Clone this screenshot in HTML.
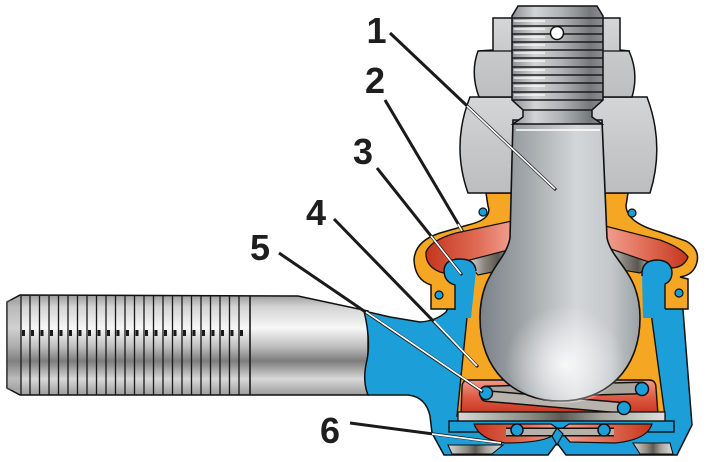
<!DOCTYPE html>
<html><head><meta charset="utf-8">
<style>
html,body{margin:0;padding:0;background:#fff;}
svg{display:block;}
text{font-family:"Liberation Sans",Arial,sans-serif;font-weight:bold;font-size:36px;fill:#1e1e1e;}
</style></head><body>
<svg width="709" height="462" viewBox="0 0 709 462" xmlns="http://www.w3.org/2000/svg">
<defs>
 <linearGradient id="rod" x1="0" y1="0" x2="0" y2="1">
  <stop offset="0" stop-color="#9a9a9a"/>
  <stop offset="0.12" stop-color="#d4d4d4"/>
  <stop offset="0.33" stop-color="#f7f7f7"/>
  <stop offset="0.52" stop-color="#bdbdbd"/>
  <stop offset="0.66" stop-color="#7c7c7c"/>
  <stop offset="0.84" stop-color="#d8d8d8"/>
  <stop offset="1" stop-color="#9c9c9c"/>
 </linearGradient>
 <linearGradient id="pin" x1="480" y1="0" x2="640" y2="0" gradientUnits="userSpaceOnUse">
  <stop offset="0" stop-color="#7b8287"/>
  <stop offset="0.3" stop-color="#a4a9ad"/>
  <stop offset="0.6" stop-color="#d3d6d8"/>
  <stop offset="0.82" stop-color="#c4c8cb"/>
  <stop offset="1" stop-color="#9aa0a4"/>
 </linearGradient>
 <radialGradient id="ballhl" cx="565" cy="365" r="60" gradientUnits="userSpaceOnUse">
  <stop offset="0" stop-color="#ffffff" stop-opacity="0.85"/>
  <stop offset="0.6" stop-color="#ffffff" stop-opacity="0.35"/>
  <stop offset="1" stop-color="#ffffff" stop-opacity="0"/>
 </radialGradient>
 <linearGradient id="thr" x1="512" y1="0" x2="604" y2="0" gradientUnits="userSpaceOnUse">
  <stop offset="0" stop-color="#8c8f92"/>
  <stop offset="0.25" stop-color="#d2d4d5"/>
  <stop offset="0.55" stop-color="#aeb1b3"/>
  <stop offset="0.85" stop-color="#75797c"/>
  <stop offset="1" stop-color="#8e9194"/>
 </linearGradient>
 <linearGradient id="nut" x1="0" y1="0" x2="0" y2="1">
  <stop offset="0" stop-color="#d4d6d7"/>
  <stop offset="0.5" stop-color="#c6c8ca"/>
  <stop offset="1" stop-color="#bcbec0"/>
 </linearGradient>
 <linearGradient id="red" x1="0" y1="0" x2="0" y2="1">
  <stop offset="0" stop-color="#f19a8c"/>
  <stop offset="0.5" stop-color="#df5b43"/>
  <stop offset="1" stop-color="#c4361d"/>
 </linearGradient>
 <linearGradient id="redL" x1="0" y1="0" x2="1" y2="0">
  <stop offset="0" stop-color="#c4361d"/>
  <stop offset="0.6" stop-color="#e06b55"/>
  <stop offset="1" stop-color="#f0a090"/>
 </linearGradient>
 <linearGradient id="redR" x1="0" y1="0" x2="1" y2="0">
  <stop offset="0" stop-color="#f0a090"/>
  <stop offset="0.5" stop-color="#e06b55"/>
  <stop offset="1" stop-color="#c4361d"/>
 </linearGradient>
 <linearGradient id="metal" x1="0" y1="0" x2="1" y2="0">
  <stop offset="0" stop-color="#e8e8e8"/>
  <stop offset="0.4" stop-color="#8a857c"/>
  <stop offset="0.7" stop-color="#5a5650"/>
  <stop offset="1" stop-color="#c8c8c8"/>
 </linearGradient>
 <linearGradient id="plate" x1="0" y1="0" x2="1" y2="0">
  <stop offset="0" stop-color="#d8d8d8"/>
  <stop offset="0.35" stop-color="#8d8980"/>
  <stop offset="0.5" stop-color="#5d5a54"/>
  <stop offset="0.7" stop-color="#a9a59c"/>
  <stop offset="1" stop-color="#e0e0e0"/>
 </linearGradient>
</defs>

<!-- threaded rod -->
<path d="M7,302 L20,295 L298,296 L368,311 L368,395 L20,395 L7,388 Z" fill="url(#rod)" stroke="#111" stroke-width="1.5"/>
<rect x="7" y="300" width="14" height="90" fill="#8a8a8a" opacity="0.35"/>
<g stroke="#1a1a1a" stroke-width="1.3">
 <line x1="21" y1="296" x2="21" y2="395"/>
 <line x1="30" y1="296" x2="30" y2="395"/>
 <line x1="39.5" y1="296" x2="39.5" y2="395"/>
 <line x1="49" y1="296" x2="49" y2="395"/>
 <line x1="58.5" y1="296" x2="58.5" y2="395"/>
 <line x1="68" y1="296" x2="68" y2="395"/>
 <line x1="77.5" y1="296" x2="77.5" y2="395"/>
 <line x1="87" y1="296" x2="87" y2="395"/>
 <line x1="96.5" y1="296" x2="96.5" y2="395"/>
 <line x1="106" y1="296" x2="106" y2="395"/>
 <line x1="115.5" y1="296" x2="115.5" y2="395"/>
 <line x1="125" y1="296" x2="125" y2="395"/>
 <line x1="134.5" y1="296" x2="134.5" y2="395"/>
 <line x1="144" y1="296" x2="144" y2="395"/>
 <line x1="153.5" y1="296" x2="153.5" y2="395"/>
 <line x1="163" y1="296" x2="163" y2="395"/>
 <line x1="172.5" y1="296" x2="172.5" y2="395"/>
 <line x1="182" y1="296" x2="182" y2="395"/>
 <line x1="191.5" y1="296" x2="191.5" y2="395"/>
 <line x1="201" y1="296" x2="201" y2="395"/>
 <line x1="210.5" y1="296" x2="210.5" y2="395"/>
 <line x1="220" y1="296" x2="220" y2="395"/>
 <line x1="229.5" y1="296" x2="229.5" y2="395"/>
 <line x1="239" y1="296" x2="239" y2="395"/>
 <line x1="250" y1="296" x2="250" y2="395" stroke-width="1.6"/>
</g>
<g fill="#1a1a1a">
 <rect x="22" y="330" width="3" height="6"/><rect x="31" y="330" width="3" height="6"/><rect x="40.5" y="330" width="3" height="6"/>
 <rect x="50" y="330" width="3" height="6"/><rect x="59.5" y="330" width="3" height="6"/><rect x="69" y="330" width="3" height="6"/>
 <rect x="78.5" y="330" width="3" height="6"/><rect x="88" y="330" width="3" height="6"/><rect x="97.5" y="330" width="3" height="6"/>
 <rect x="107" y="330" width="3" height="6"/><rect x="116.5" y="330" width="3" height="6"/><rect x="126" y="330" width="3" height="6"/>
 <rect x="135.5" y="330" width="3" height="6"/><rect x="145" y="330" width="3" height="6"/><rect x="154.5" y="330" width="3" height="6"/>
 <rect x="164" y="330" width="3" height="6"/><rect x="173.5" y="330" width="3" height="6"/><rect x="183" y="330" width="3" height="6"/>
 <rect x="192.5" y="330" width="3" height="6"/><rect x="202" y="330" width="3" height="6"/><rect x="211.5" y="330" width="3" height="6"/>
 <rect x="221" y="330" width="3" height="6"/><rect x="230.5" y="330" width="3" height="6"/><rect x="240" y="330" width="3" height="6"/>
</g>

<!-- blue housing -->
<path d="M364,311 L390,317 L420,322 Q436,321 446,312 L452,300 L452,272 Q452,259 463,259 Q474,259 475,268 L640,268 Q642,260 656,260 Q670,261 671,276 L672,300 L683,310 L692,425 L677,455 L566,455 L557,443 L548,455 L444,455 L432,433 L430,416 Q426,397 408,395 L368,395 Q362,380 367,360 Q371,340 364,311 Z" fill="#1c9fd9" stroke="#111" stroke-width="1.5"/>

<!-- orange liner -->
<path d="M472,268 L645,268 L665,416 L457,416 Z" fill="#f5a623" stroke="#111" stroke-width="1.4"/>

<!-- red spring seat -->
<path d="M468,380 L649,380 Q656,380 656,388 L658,414 L461,414 L462,388 Q462,380 468,380 Z" fill="url(#red)" stroke="#111" stroke-width="1.4"/>
<!-- spring bars -->
<g stroke-linecap="round">
 <line x1="486" y1="392" x2="642" y2="388" stroke="#111" stroke-width="13"/>
 <line x1="486" y1="392" x2="642" y2="388" stroke="#a9a59e" stroke-width="10"/>
 <line x1="486" y1="396" x2="624" y2="408" stroke="#111" stroke-width="12"/>
 <line x1="486" y1="396" x2="624" y2="408" stroke="#b8b4ad" stroke-width="9"/>
</g>

<!-- orange boot left -->
<path d="M486,193 L515,193 L515,256 L470,262 Q456,268 456,284 L456,309 L431,309 L431,285 Q415,280 414,260 Q415,241 440,233 L468,225 Q493,219 488,206 Z" fill="#f5a623" stroke="#111" stroke-width="1.5"/>
<!-- orange boot right -->
<path d="M600,193 L628,193 L626,206 Q627,223 660,232 L686,241 Q700,249 697,262 Q694,275 680,277 L688,279 L688,309 L664,309 L664,277 L650,272 L600,262 Z" fill="#f5a623" stroke="#111" stroke-width="1.5"/>
<!-- red boot layers -->
<path d="M512,221 L456,233 Q431,240 426,252 Q425,266 440,272 L452,275 L463,262 L512,250 Z" fill="url(#redL)" stroke="#111" stroke-width="1.3"/>
<path d="M605,226 L660,240 Q682,248 688,257 Q684,268 670,268 L652,264 L605,248 Z" fill="url(#redR)" stroke="#111" stroke-width="1.3"/>
<!-- metal rings -->
<path d="M466,261 L512,249 L512,268 L478,275 Z" fill="url(#metal)" stroke="#111" stroke-width="1.2"/>
<path d="M605,247 L652,263 L640,273 L605,267 Z" fill="url(#metal)" stroke="#111" stroke-width="1.2"/>
<!-- blue bumps (top lips of housing) -->
<path d="M455,318 L455,285 Q444,282 444,270 Q445,259 460,259 Q475,259 476,271 L471,318 Z" fill="#1c9fd9"/>
<path d="M455,310 L455,285 Q444,282 444,270 Q445,259 460,259 Q475,259 476,271" fill="none" stroke="#111" stroke-width="1.4"/>
<path d="M643,318 L642,276 Q641,261 656,260 Q671,260 672,272 Q672,281 665,284 L665,318 Z" fill="#1c9fd9"/>
<path d="M642,276 Q641,261 656,260 Q671,260 672,272 Q672,281 665,284 L665,309" fill="none" stroke="#111" stroke-width="1.4"/>

<!-- small dots -->
<g fill="#1c9fd9" stroke="#111" stroke-width="1.2">
 <circle cx="483" cy="212" r="4"/>
 <circle cx="632" cy="213" r="4"/>
 <circle cx="439" cy="295" r="4"/>
 <circle cx="679" cy="293" r="4"/>
</g>

<!-- nuts -->
<path d="M470,97 L647,97 Q665,145 650,193 L468,193 Q451,145 470,97 Z" fill="url(#nut)" stroke="#111" stroke-width="1.5"/>
<path d="M493,18 L620,18 L620,50 L629,51 Q639,73 632,97 L479,97 Q470,73 478,51 L493,50 Z" fill="url(#nut)" stroke="#111" stroke-width="1.5"/>
<line x1="478" y1="51" x2="630" y2="51" stroke="#111" stroke-width="1.2"/>

<!-- pin -->
<path d="M513,120 L602,120 L607,238 C612,262 640,272 640,318 C640,370 606,401 560,401 C514,401 480,370 480,318 C480,272 506,262 510,238 Z" fill="url(#pin)" stroke="#111" stroke-width="1.6"/>
<ellipse cx="565" cy="355" rx="62" ry="48" fill="url(#ballhl)"/>
<line x1="516" y1="130" x2="600" y2="130" stroke="#fff" stroke-width="1.5"/>
<!-- threaded top -->
<path d="M518,6 L597,6 L603,16 L603,100 L592,110 L592,117 L602,124 L513,124 L523,117 L523,110 L512,100 L512,16 Z" fill="url(#thr)" stroke="#111" stroke-width="1.5"/>
<g stroke="#1a1a1a" stroke-width="1.4">
 <line x1="512" y1="18" x2="603" y2="18"/><line x1="512" y1="26" x2="603" y2="26"/>
 <line x1="512" y1="34" x2="603" y2="34"/><line x1="512" y1="42" x2="603" y2="42"/>
 <line x1="512" y1="50" x2="603" y2="50"/><line x1="512" y1="58" x2="603" y2="58"/>
 <line x1="512" y1="67" x2="603" y2="67"/><line x1="512" y1="75" x2="603" y2="75"/>
 <line x1="512" y1="83" x2="603" y2="83"/><line x1="512" y1="92" x2="603" y2="92"/>
 <line x1="512" y1="100" x2="603" y2="100"/><line x1="523" y1="110" x2="592" y2="110"/>
</g>
<g stroke="#fff" stroke-width="1.2">
 <line x1="514" y1="21" x2="545" y2="21"/><line x1="514" y1="29" x2="545" y2="29"/>
 <line x1="514" y1="37" x2="545" y2="37"/><line x1="514" y1="45" x2="545" y2="45"/>
 <line x1="514" y1="53" x2="545" y2="53"/><line x1="514" y1="61" x2="545" y2="61"/>
 <line x1="514" y1="70" x2="545" y2="70"/><line x1="514" y1="78" x2="545" y2="78"/>
 <line x1="514" y1="86" x2="545" y2="86"/><line x1="514" y1="95" x2="545" y2="95"/>
</g>
<circle cx="557" cy="33" r="6.5" fill="#fff" stroke="#111" stroke-width="1.5"/>

<!-- bottom parts -->
<rect x="458" y="412" width="207" height="10" fill="url(#plate)" stroke="#111" stroke-width="1.3"/>
<rect x="449" y="421" width="225" height="11" fill="#1c9fd9" stroke="#111" stroke-width="1.4"/>
<path d="M474,424 L551,424 L557,428 L552,436 Q540,443 505,443 Q480,440 474,424 Z" fill="url(#redL)" stroke="#111" stroke-width="1.2"/>
<path d="M563,428 L569,424 L652,424 Q647,440 615,443 L570,442 L563,434 Z" fill="url(#redR)" stroke="#111" stroke-width="1.2"/>
<line x1="506" y1="432" x2="614" y2="432" stroke="#111" stroke-width="9"/>
<line x1="506" y1="432" x2="614" y2="432" stroke="#b5b1aa" stroke-width="6"/>
<path d="M552,436 L557,428 L563,434 L557,445 Z" fill="#1c9fd9" stroke="#111" stroke-width="1.2"/>
<path d="M448,445 L503,445 L492,454 L452,454 Z" fill="url(#plate)" stroke="#111" stroke-width="1.1"/>
<path d="M633,443 L670,443 L673,454 L640,454 Z" fill="url(#plate)" stroke="#111" stroke-width="1.1"/>

<!-- coil ends -->
<g fill="#1c9fd9" stroke="#111" stroke-width="1.5">
 <circle cx="486" cy="393" r="6.5"/>
 <circle cx="642" cy="389" r="6.5"/>
 <circle cx="624" cy="408" r="6.5"/>
 <circle cx="517" cy="430" r="6"/>
 <circle cx="604" cy="430" r="6"/>
</g>

<!-- leader lines -->
<g stroke="#1a1a1a" stroke-width="3" stroke-linecap="butt">
 <line x1="390" y1="33" x2="556" y2="190"/>
 <line x1="385" y1="100" x2="463" y2="232"/>
 <line x1="377" y1="168" x2="462" y2="275"/>
 <line x1="334" y1="219" x2="478" y2="367"/>
 <line x1="279" y1="253" x2="483" y2="392"/>
 <line x1="350" y1="423" x2="502" y2="443"/>
</g>
<g stroke="#fff" stroke-width="1.7">
 <line x1="467" y1="106" x2="555" y2="189"/>
 <line x1="458" y1="224" x2="462" y2="231"/>
 <line x1="431" y1="236" x2="461" y2="274"/>
 <line x1="434" y1="321" x2="477" y2="366"/>
 <line x1="366" y1="312" x2="482" y2="391"/>
 <line x1="432" y1="434" x2="501" y2="443"/>
</g>

<!-- labels -->
<text x="376.5" y="43" text-anchor="middle">1</text>
<text x="375" y="93" text-anchor="middle">2</text>
<text x="363" y="164" text-anchor="middle">3</text>
<text x="316" y="225" text-anchor="middle">4</text>
<text x="260" y="260" text-anchor="middle">5</text>
<text x="330" y="443" text-anchor="middle">6</text>
</svg>
</body></html>
